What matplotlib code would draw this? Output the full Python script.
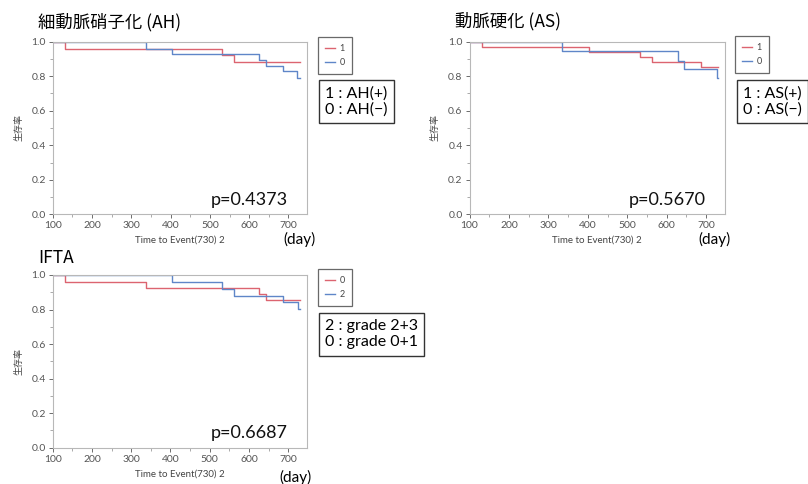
import matplotlib.pyplot as plt

plt.rcParams['font.family'] = ['Lato', 'Noto Sans CJK JP', 'DejaVu Sans']

# Kaplan-Meier steps (days, survival)
ah_red_t = [0, 131, 532, 561, 730]
ah_red_s = [1.0, 0.958, 0.922, 0.880, 0.880]
ah_blue_t = [0, 337, 404, 625, 644, 686, 723, 730]
ah_blue_s = [1.0, 0.958, 0.930, 0.894, 0.861, 0.828, 0.790, 0.790]

as_red_t = [0, 131, 404, 533, 562, 686, 730]
as_red_s = [1.0, 0.967, 0.942, 0.910, 0.884, 0.853, 0.853]
as_blue_t = [0, 335, 628, 643, 727, 730]
as_blue_s = [1.0, 0.946, 0.888, 0.840, 0.788, 0.788]

ifta_red_t = [0, 131, 337, 625, 643, 730]
ifta_red_s = [1.0, 0.962, 0.923, 0.890, 0.853, 0.853]
ifta_blue_t = [0, 404, 532, 561, 686, 724, 730]
ifta_blue_s = [1.0, 0.958, 0.920, 0.880, 0.845, 0.803, 0.803]

titles = ['細動脈硝子化 (AH)', '動脈硬化 (AS)', 'IFTA']
legend_labels = [('1', '0'), ('1', '0'), ('0', '2')]
notes = ['1 : AH(+)\n0 : AH(−)', '1 : AS(+)\n0 : AS(−)', '2 : grade 2+3\n0 : grade 0+1']
pvalues = ['p=0.4373', 'p=0.5670', 'p=0.6687']

RED = '#dc6470'
BLUE = '#5f86c8'
W, H = 808, 484

fig = plt.figure(figsize=(8.08, 4.84), dpi=100)


def fx(px):
    return px / W


def fy(py):
    return 1 - py / H


# axes boxes in pixels: left, top, right, bottom
boxes = [(52.7, 41.7, 307.3, 214.3),
         (469.5, 41.7, 725.0, 214.3),
         (52.7, 275.0, 307.0, 447.7)]
series = [(ah_red_t, ah_red_s, ah_blue_t, ah_blue_s),
          (as_red_t, as_red_s, as_blue_t, as_blue_s),
          (ifta_red_t, ifta_red_s, ifta_blue_t, ifta_blue_s)]
title_pos = [(38, 22), (455, 21), (38, 258)]
day_pos = [(283, 239), (698, 239), (279, 477)]
note_pos = [(325, 86), (743, 86), (325, 319)]
legend_pos = [(318, 37), (735, 36), (318, 269)]

for i in range(3):
    l, t, r, b = boxes[i]
    ax = fig.add_axes([fx(l), fy(b), (r - l) / W, (b - t) / H])
    rt, rs, bt, bs = series[i]
    ax.step(rt, rs, where='post', color=RED, lw=1.0, label=legend_labels[i][0])
    ax.step(bt, bs, where='post', color=BLUE, lw=1.0, label=legend_labels[i][1])
    ax.set_xlim(100, 748)
    ax.set_ylim(0, 1.0)
    ax.set_xticks(range(100, 701, 100))
    ax.set_xticks(range(150, 750, 50), minor=True)
    ax.set_yticks([0.0, 0.2, 0.4, 0.6, 0.8, 1.0])
    ax.set_yticks([0.1, 0.3, 0.5, 0.7, 0.9], minor=True)
    ax.set_yticklabels(['0.0', '0.2', '0.4', '0.6', '0.8', '1.0'])
    ax.tick_params(labelsize=7.5, colors='#555555', length=3, width=0.6, pad=2)
    ax.tick_params(which='minor', length=2, width=0.5, colors='#888888')
    for s in ax.spines.values():
        s.set_color('#b8b8b8')
        s.set_linewidth(0.8)
    ax.set_xlabel('Time to Event(730) 2', fontsize=7, color='#444444', labelpad=4)
    ax.set_ylabel('生存率', fontsize=6.5, color='#444444', labelpad=6,
                  family=['Noto Sans CJK JP'])

    leg = ax.legend(loc='upper left', bbox_to_anchor=(fx(legend_pos[i][0]), fy(legend_pos[i][1])),
                    bbox_transform=fig.transFigure, fontsize=6.5, handlelength=1.1,
                    handletextpad=0.5, borderpad=0.8, labelspacing=0.5,
                    borderaxespad=0, fancybox=False, frameon=True)
    leg.get_frame().set_edgecolor('#444444')
    leg.get_frame().set_linewidth(0.9)
    for txt in leg.get_texts():
        txt.set_color('#444444')

    ax.text(0.925, 0.083, pvalues[i], transform=ax.transAxes, fontsize=13,
            ha='right', va='center', color='#111111')

    fig.text(fx(title_pos[i][0]), fy(title_pos[i][1]), titles[i], fontsize=12.5,
             ha='left', va='center', family=['Noto Sans CJK JP'])
    fig.text(fx(day_pos[i][0]), fy(day_pos[i][1]), '(day)', fontsize=11,
             ha='left', va='center')
    fig.text(fx(note_pos[i][0]), fy(note_pos[i][1]), notes[i], fontsize=11.5,
             ha='left', va='top', linespacing=1.2,
             family=['Lato', 'DejaVu Sans'],
             bbox=dict(boxstyle='square,pad=0.4', fc='white', ec='#333333', lw=1.0))

fig.savefig('out.png', dpi=100)
